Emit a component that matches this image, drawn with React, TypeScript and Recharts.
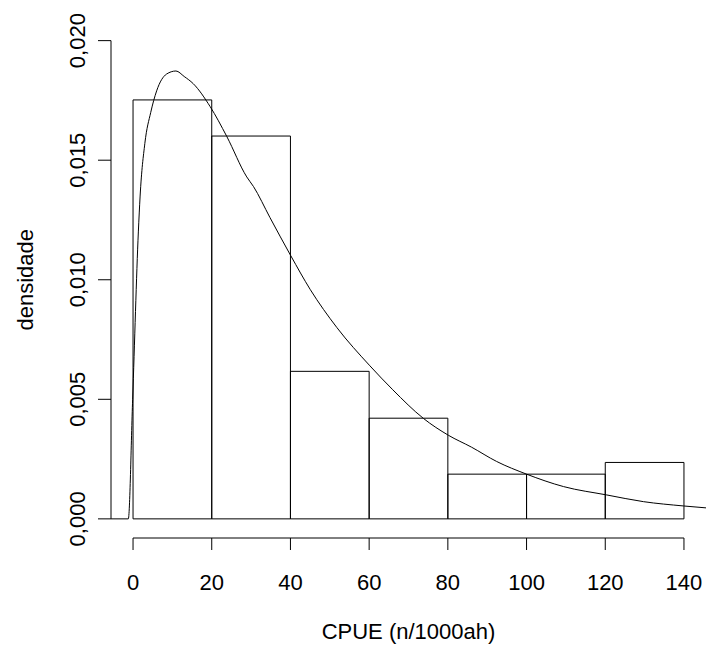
import React from 'react';
import { ComposedChart, Line, XAxis, YAxis, ReferenceArea, ReferenceLine, Label } from 'recharts';

// histogram bins (density scale)
const binStart = [0, 20, 40, 60, 80, 100, 120];
const binEnd = [20, 40, 60, 80, 100, 120, 140];
const binDensity = [0.01752, 0.01601, 0.00617, 0.00421, 0.00187, 0.00187, 0.00236];

// fitted density curve
const curveX = [-5.6, -1.2, -0.1, 1.35, 1.8, 3.0, 4.5, 6.0, 8.5, 10.9, 13, 15.3, 19.6, 23.8, 28.9, 30.6, 34.8, 40.1, 45, 51.8, 60.2, 66, 73.8, 80.1, 86, 92.4, 100, 109.4, 120.4, 129.7, 139.9, 145.6];
const curveY = [0, 0, 0.005, 0.012, 0.0135, 0.0157, 0.017, 0.0179, 0.0186, 0.01873, 0.0185, 0.0182, 0.01724, 0.016, 0.0143, 0.0139, 0.0126, 0.011, 0.0096, 0.008, 0.0064, 0.0054, 0.0042, 0.0035, 0.003, 0.0024, 0.00187, 0.00135, 0.001, 0.00072, 0.00054, 0.00046];

const xTicks = [0, 20, 40, 60, 80, 100, 120, 140];
const yTicks = [0, 0.005, 0.01, 0.015, 0.02];

const xMin = -5.6;
const xMax = 145.6;
const yMin = -0.0008;
const yMax = 0.0208;

const FONT = '"Liberation Sans", Arial, Helvetica, sans-serif';
const INK = '#000';

const curve = curveX.map((x, i) => ({ x, y: curveY[i] }));

const fmt = (v: number) => v.toFixed(3).replace('.', ',');

const XTick = ({ x, y, payload }: any) => (
  <text x={x} y={y + 38} textAnchor="middle" fontSize={22} fontFamily={FONT} fill={INK}>
    {payload.value}
  </text>
);

const YTick = ({ x, y, payload }: any) => (
  <text
    x={x - 11}
    y={y}
    transform={`rotate(-90, ${x - 11}, ${y})`}
    textAnchor="middle"
    fontSize={22}
    fontFamily={FONT}
    fill={INK}
  >
    {fmt(payload.value)}
  </text>
);

const YTitle = ({ viewBox }: any) => {
  const cx = viewBox.x + 33;
  const cy = viewBox.y + viewBox.height / 2;
  return (
    <text x={cx} y={cy} transform={`rotate(-90, ${cx}, ${cy})`} textAnchor="middle" fontSize={22} fontFamily={FONT} fill={INK}>
      densidade
    </text>
  );
};

export default function App() {
  return (
    <div style={{ position: 'absolute', left: 0, top: 0, background: '#fff' }}>
      <ComposedChart width={708} height={648} margin={{ top: 21.5, right: 2, left: 0, bottom: 0 }}>
        <XAxis
          type="number"
          dataKey="x"
          domain={[xMin, xMax]}
          ticks={xTicks}
          allowDataOverflow
          axisLine={false}
          tickSize={12}
          tickLine={{ stroke: INK }}
          tick={<XTick />}
          height={110}
        >
          <Label value="CPUE (n/1000ah)" position="insideBottom" offset={9} fontSize={22} fontFamily={FONT} fill={INK} />
        </XAxis>
        <YAxis
          type="number"
          domain={[yMin, yMax]}
          ticks={yTicks}
          allowDataOverflow
          axisLine={false}
          tickSize={13}
          tickLine={{ stroke: INK }}
          tick={<YTick />}
          width={111}
        >
          <Label content={<YTitle />} />
        </YAxis>

        <ReferenceLine segment={[{ x: 0, y: yMin }, { x: 140, y: yMin }]} stroke={INK} ifOverflow="visible" />
        <ReferenceLine segment={[{ x: xMin, y: 0 }, { x: xMin, y: 0.02 }]} stroke={INK} ifOverflow="visible" />

        {binStart.map((b, i) => (
          <ReferenceArea
            key={b}
            x1={b}
            x2={binEnd[i]}
            y1={0}
            y2={binDensity[i]}
            fill="none"
            fillOpacity={0}
            stroke={INK}
            strokeWidth={1}
            ifOverflow="visible"
          />
        ))}

        <Line
          data={curve}
          dataKey="y"
          type="monotone"
          dot={false}
          activeDot={false}
          stroke={INK}
          strokeWidth={1}
          isAnimationActive={false}
        />
      </ComposedChart>
    </div>
  );
}
